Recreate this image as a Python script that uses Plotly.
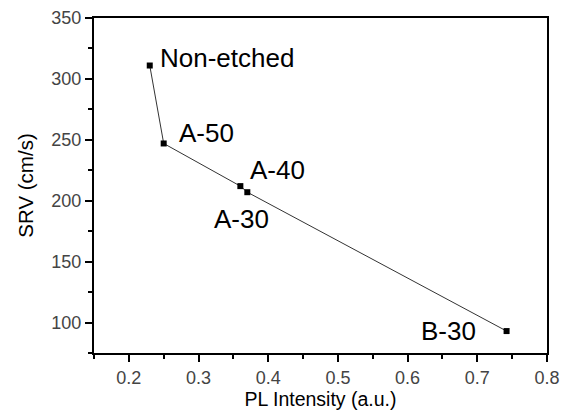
import plotly.graph_objects as go

samples = ["Non-etched", "A-50", "A-40", "A-30", "B-30"]
pl_intensity = [0.23, 0.25, 0.36, 0.37, 0.742]
srv = [311, 247, 212, 207, 93]

# label offsets in pixels (xshift, yshift)
label_shift = [(8, 8), (13, 10), (8, 16), (-35, -27), (-88, 0)]

FONT = "Liberation Sans, Arial"

fig = go.Figure()
fig.add_trace(go.Scatter(
    x=pl_intensity, y=srv, mode="lines+markers",
    line=dict(color="#333333", width=1),
    marker=dict(symbol="square", size=6, color="black"),
    showlegend=False,
))

for s, x, y, (dx, dy) in zip(samples, pl_intensity, srv, label_shift):
    fig.add_annotation(x=x, y=y, text=s, showarrow=False,
                       xanchor="left", yanchor="middle",
                       xshift=dx, yshift=dy,
                       font=dict(family=FONT, size=26, color="black"))

axis_common = dict(
    showline=True, linecolor="black", linewidth=2, mirror=True,
    ticks="outside", tickcolor="black", tickwidth=2, ticklen=7,
    showgrid=False, zeroline=False,
    tickfont=dict(family=FONT, size=18, color="#444444"),
)

fig.update_xaxes(range=[0.15, 0.8], dtick=0.1, tick0=0.2,
                 minor=dict(ticks="outside", ticklen=4, tickwidth=2, tickcolor="black", dtick=0.05),
                 title=dict(text="PL Intensity (a.u.)", standoff=6,
                            font=dict(family=FONT, size=19.5, color="black")),
                 **axis_common)
fig.update_yaxes(range=[75, 350], dtick=50, tick0=100,
                 minor=dict(ticks="outside", ticklen=4, tickwidth=2, tickcolor="black", dtick=25),
                 title=dict(text="SRV (cm/s)", standoff=12,
                            font=dict(family=FONT, size=20.5, color="black")),
                 **axis_common)

fig.update_layout(
    width=566, height=416,
    margin=dict(l=94, r=19, t=18, b=63, autoexpand=False),
    paper_bgcolor="white", plot_bgcolor="white",
)

fig.write_html("out.html", config={"displayModeBar": False},
               post_script="document.body.style.margin='0';")
